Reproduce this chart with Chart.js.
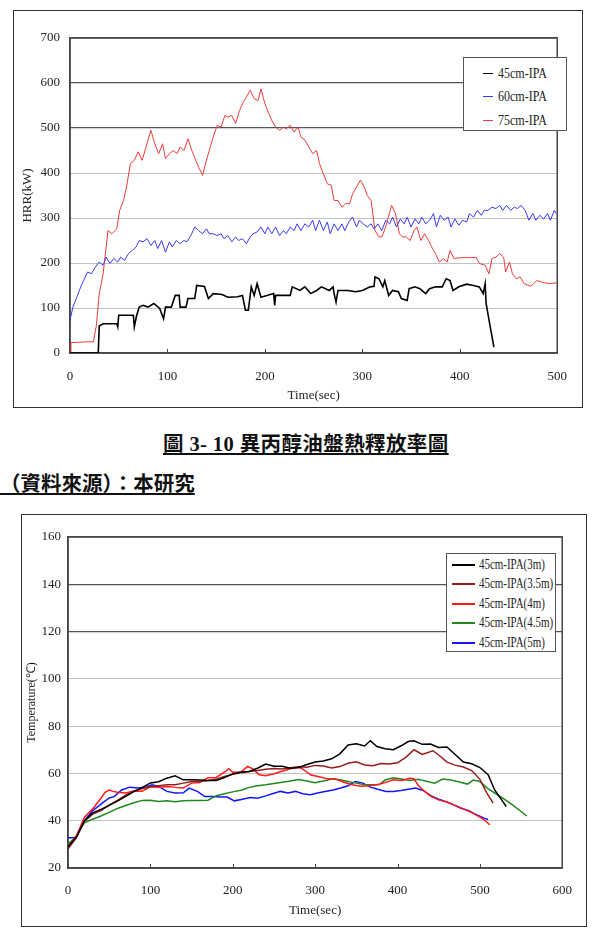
<!DOCTYPE html>
<html>
<head>
<meta charset="utf-8">
<script src="https://cdn.jsdelivr.net/npm/chart.js@4.4.1/dist/chart.umd.min.js"></script>
<style>
  body { margin: 0; width: 595px; height: 932px; position: relative; background: #fff; overflow: hidden; font-family: 'Liberation Serif', serif; color: #222; }
  .frame { position: absolute; border: 1.5px solid #333; box-sizing: border-box; }
  #frame1 { left: 13px; top: 10px; width: 570px; height: 398px; }
  #frame2 { left: 21px; top: 514px; width: 566px; height: 413px; }
  canvas { position: absolute; }
  #hrrChart { left: 13px; top: 10px; }
  #tempChart { left: 21px; top: 514px; }
  .legend { position: absolute; border: 1.5px solid #555; background: #fff; box-sizing: border-box; }
  #legend1 { left: 463px; top: 57px; width: 104px; height: 74px; }
  #legend2 { left: 446px; top: 553px; width: 110px; height: 99px; }
  .item { position: absolute; left: 0; height: 18px; white-space: nowrap; }
  .item .swatch { position: absolute; top: 9px; height: 0; }
  .item .label { position: absolute; top: 0; font-size: 15px; line-height: 18px; transform-origin: left center; }
  .caption { position: absolute; font-family: 'Liberation Serif', 'Noto Sans CJK TC', serif; font-weight: bold; font-size: 20.5px; text-decoration: underline; white-space: nowrap; color: #111; }
  #caption1 { left: 163px; top: 427px; letter-spacing: 0.4px; }
  #caption2 { left: 0px; top: 467px; }
</style>
</head>
<body>
<div class="frame" id="frame1"></div>
<canvas id="hrrChart" width="570" height="398"></canvas>
<div class="legend" id="legend1"></div>

<div class="caption" id="caption1">圖 3- 10 異丙醇油盤熱釋放率圖</div>
<div class="caption" id="caption2">（資料來源）：本研究</div>

<div class="frame" id="frame2"></div>
<canvas id="tempChart" width="566" height="413"></canvas>
<div class="legend" id="legend2"></div>

<script>
// ---- HRR chart data: [time (sec), HRR (kW)] ----
const hrrLabels = ["45cm-IPA", "60cm-IPA", "75cm-IPA"];
const hrr45 = [[0,0],[29,0],[30,60],[34,65],[48,65],[49,58],[50,84],[65,84],[66,58],[68,80],[71,102],[75,106],[80,102],[86,110],[92,99],[96,76],[98,102],[104,102],[108,128],[112,128],[113,102],[119,102],[121,121],[128,121],[130,150],[138,148],[142,121],[147,132],[156,130],[162,124],[172,125],[177,128],[180,95],[183,95],[186,147],[189,128],[192,154],[196,124],[202,128],[209,132],[210,106],[211,128],[221,128],[226,128],[228,147],[236,139],[241,147],[247,132],[253,139],[258,147],[266,139],[270,147],[271,132],[273,113],[275,139],[285,139],[293,136],[300,139],[308,147],[312,148],[313,169],[317,165],[321,147],[323,161],[327,128],[331,139],[337,136],[340,121],[346,117],[348,143],[354,147],[359,143],[365,132],[369,143],[375,147],[382,147],[386,165],[390,161],[393,139],[399,147],[407,153],[414,150],[420,147],[424,132],[426,154],[427,110],[431,61],[435,13]];
const hrr60 = [[0,73],[3,102],[7,124],[11,147],[14,161],[18,180],[22,176],[26,191],[30,202],[34,195],[37,213],[41,199],[45,210],[49,202],[52,213],[56,206],[60,221],[64,228],[68,236],[71,250],[75,247],[79,254],[83,239],[87,250],[90,232],[94,250],[98,224],[102,247],[105,236],[109,250],[113,243],[117,250],[120,247],[124,261],[128,280],[132,272],[136,265],[140,276],[143,265],[147,265],[151,261],[155,265],[158,254],[162,261],[166,247],[170,258],[173,250],[177,254],[181,243],[185,258],[188,265],[192,269],[196,280],[200,265],[203,280],[207,265],[211,280],[215,261],[219,272],[222,265],[226,280],[230,272],[233,287],[237,272],[241,287],[245,280],[249,295],[252,272],[256,295],[260,272],[264,291],[267,265],[271,287],[275,272],[279,287],[282,272],[286,291],[290,302],[294,280],[297,295],[301,287],[305,280],[309,287],[312,276],[316,287],[320,272],[324,295],[328,287],[331,302],[335,280],[339,298],[343,287],[346,302],[350,280],[354,298],[358,287],[361,302],[365,287],[369,295],[373,310],[376,280],[380,306],[384,295],[388,302],[391,280],[395,298],[399,284],[403,295],[407,291],[410,310],[414,302],[418,317],[422,306],[425,317],[429,317],[433,324],[437,321],[441,328],[444,317],[448,328],[452,317],[456,324],[459,321],[463,328],[467,317],[471,295],[475,310],[478,295],[482,306],[486,298],[490,310],[493,295],[497,317],[499,310]];
const hrr75 = [[0,0],[1,23],[10,24],[20,25],[24,25],[27,60],[30,132],[34,176],[39,272],[43,265],[48,276],[51,317],[55,339],[58,369],[62,421],[66,428],[70,447],[74,428],[79,465],[83,495],[87,465],[91,443],[95,465],[98,432],[102,443],[106,450],[110,443],[113,458],[117,450],[121,476],[125,450],[129,428],[132,413],[136,395],[140,428],[144,458],[147,480],[151,506],[155,502],[159,528],[162,524],[166,528],[170,510],[174,539],[177,554],[181,569],[185,584],[189,565],[193,561],[196,587],[200,554],[204,532],[207,517],[211,502],[215,495],[219,502],[222,498],[226,506],[230,491],[234,502],[237,480],[241,473],[245,458],[249,443],[253,450],[256,421],[260,398],[264,376],[268,373],[271,339],[275,339],[279,324],[283,332],[287,332],[290,354],[294,369],[298,384],[302,369],[305,350],[309,339],[313,272],[317,258],[320,258],[324,280],[330,328],[334,310],[338,265],[341,258],[345,258],[349,250],[353,272],[356,280],[360,250],[364,265],[368,250],[371,236],[375,221],[379,202],[383,210],[387,202],[390,228],[394,210],[402,212],[409,212],[417,212],[420,199],[426,195],[430,176],[433,210],[437,213],[441,221],[445,213],[447,180],[451,202],[454,176],[458,165],[462,169],[466,154],[473,148],[479,161],[487,156],[492,154],[500,156]];

// ---- Temperature chart data: [time (sec), temperature (C)] ----
const tempLabels = ["45cm-IPA(3m)", "45cm-IPA(3.5m)", "45cm-IPA(4m)", "45cm-IPA(4.5m)", "45cm-IPA(5m)"];
const temp3m = [[0,29],[10,33],[20,40],[30,43.3],[40,44.8],[50,46.5],[60,48.3],[70,50.3],[80,52.3],[90,54],[100,56],[110,56.5],[120,58],[130,59],[140,57.3],[150,57.3],[160,57.2],[170,57],[180,57],[190,58.3],[200,59.8],[210,60.6],[220,60.8],[230,62.2],[240,64],[250,63],[260,63],[270,62.2],[280,62.5],[290,63.8],[300,64.8],[310,65.3],[320,66.2],[330,68.3],[340,72],[350,72.5],[360,71.6],[367,73.8],[375,71.4],[385,70.4],[395,70],[405,71.8],[413,73.5],[420,73.8],[430,72.3],[440,72.4],[450,71],[460,71.2],[470,68],[480,64.8],[490,64.1],[500,62.5],[510,59.5],[518,53],[526,49],[532,46]];
const temp35m = [[0,28],[10,32.7],[20,39.8],[30,42.8],[40,44.3],[50,46.6],[60,48.6],[70,50.8],[80,52.6],[90,53.6],[100,54.4],[110,54.8],[120,55.2],[130,55.2],[140,55.9],[150,56.6],[160,56.6],[170,57],[180,57.6],[190,58.7],[200,59.6],[210,60.3],[220,60.8],[230,61.2],[240,61.8],[250,62.1],[260,61.9],[270,62.4],[280,62.8],[290,62.6],[300,63.4],[310,63.1],[320,62.3],[330,62.9],[340,64.3],[350,64.9],[360,63.6],[370,63.3],[380,64.2],[390,64],[400,64.5],[410,66.8],[420,70],[430,68],[443,69.6],[450,67.8],[460,64.8],[470,63.5],[480,62.7],[490,61.2],[500,57.5],[508,52],[516,47.4]];
const temp4m = [[0,29],[10,33.4],[20,41.5],[30,45],[40,49.5],[45,52],[50,53],[55,52.4],[60,52],[70,51.7],[80,52.6],[90,52.5],[100,54.4],[110,54.2],[120,54.5],[130,54.1],[140,53.8],[150,55.9],[160,56.2],[170,58.2],[180,58.3],[190,60.5],[195,62],[200,60.5],[210,60.6],[218,63],[225,61.8],[232,59.4],[240,59],[250,59.9],[260,60.9],[270,62],[280,62.6],[285,61.8],[295,59.3],[305,58.6],[315,57.7],[325,57.6],[335,56.3],[345,55.2],[355,54.6],[365,54.8],[375,55.2],[385,56.1],[395,57.3],[405,57],[415,58],[420,57.8],[425,55],[430,53.3],[440,50.4],[450,48.8],[460,47.9],[470,46.5],[480,45],[490,43.5],[500,41.5],[505,40.4],[512,38.3]];
const temp45m = [[0,30],[10,33.4],[20,39.2],[30,40.6],[40,42],[50,43.5],[60,45.2],[70,46.4],[80,47.6],[90,48.6],[100,48.7],[110,48.1],[120,48.4],[130,48],[140,48.4],[150,48.6],[160,48.6],[170,48.7],[180,50.6],[190,51.4],[200,52.2],[210,52.9],[220,54.1],[230,54.8],[240,55.2],[250,55.7],[260,56.3],[270,56.8],[280,57.4],[290,56.8],[300,56.1],[310,56.8],[320,57.6],[330,57.3],[340,56.6],[350,55.9],[360,55.2],[370,55.2],[378,55.3],[385,57.2],[395,58.2],[405,57.6],[415,57],[425,57.5],[435,56.7],[445,55.9],[455,57.6],[465,57.2],[475,56.4],[485,55.5],[492,57.2],[500,56.6],[510,53.5],[520,51.3],[530,49],[540,46.6],[550,43.9],[557,42]];
const temp5m = [[0,32.8],[5,32.8],[10,33],[15,36.9],[22,41],[30,44.2],[40,47],[50,49.6],[56,50.2],[65,53],[75,54.2],[85,53.8],[95,54.3],[102,55.2],[110,54.5],[120,52.4],[130,51.7],[140,51.8],[147,53.8],[157,52.4],[166,50.2],[175,50.2],[185,50],[193,50],[202,48.4],[212,49.1],[221,49.8],[230,49.5],[240,50.5],[250,51.6],[258,52.4],[267,51.7],[276,52.4],[285,51.4],[294,51],[303,51.7],[312,52.4],[322,53],[331,53.8],[340,54.8],[349,56.6],[358,55.9],[367,54.2],[376,53.3],[386,52.4],[395,52.4],[404,52.8],[413,53.3],[422,53.8],[431,52.8],[441,50.5],[450,49.1],[459,48],[468,46.7],[477,45.3],[486,44.3],[496,42.5],[505,41.1],[510,40.5]];

const hrrColors = ["#000000", "#3a3af5", "#f03a3a"];
const tempColors = ["#000000", "#991c1c", "#ff1a1a", "#1e8a1e", "#1414ff"];

const toPoints = (pairs) => pairs.map(p => ({ x: p[0], y: p[1] }));
const tickFont = { family: "'Liberation Serif', serif", size: 13 };

// frame around the plot area + small inner tick marks on the time axis
const plotFrame = {
  id: "plotFrame",
  beforeDatasetsDraw(chart) {
    const { ctx, chartArea: a, scales: { x } } = chart;
    ctx.save();
    ctx.strokeStyle = "#444";
    ctx.lineWidth = 1;
    x.ticks.forEach(t => {
      const px = Math.round(x.getPixelForValue(t.value)) + 0.5;
      ctx.beginPath();
      ctx.moveTo(px, a.bottom);
      ctx.lineTo(px, a.bottom - 4);
      ctx.stroke();
    });
    ctx.lineWidth = 1.5;
    ctx.strokeRect(a.left, a.top, a.right - a.left, a.bottom - a.top);
    ctx.restore();
  }
};

const makeChart = (canvasId, cfg) => new Chart(document.getElementById(canvasId), {
  type: "line",
  data: { datasets: cfg.datasets },
  options: {
    responsive: false,
    animation: false,
    layout: { padding: cfg.padding },
    plugins: { legend: { display: false }, tooltip: { enabled: false } },
    elements: { point: { radius: 0 }, line: { tension: 0 } },
    scales: {
      x: {
        type: "linear", min: cfg.xMin, max: cfg.xMax,
        ticks: { stepSize: 100, font: tickFont, color: "#222", padding: cfg.xTickPad, maxRotation: 0 },
        grid: { drawOnChartArea: false, drawTicks: false },
        border: { color: "#444", width: 1.5 },
        title: { display: true, text: "Time(sec)", font: { family: "'Liberation Serif', serif", size: 13 }, color: "#222", padding: { top: 0, bottom: cfg.xTitlePad } },
        afterFit: s => { s.height = cfg.xHeight; }
      },
      y: {
        min: cfg.yMin, max: cfg.yMax,
        ticks: { stepSize: cfg.yStep, font: tickFont, color: "#222", padding: cfg.yTickPad },
        grid: { drawTicks: false, color: c => cfg.darkGrid.includes(c.tick.value) ? "#555" : "#c2c2c2", lineWidth: c => cfg.darkGrid.includes(c.tick.value) ? 1.3 : 1 },
        border: { color: "#444", width: 1.5 },
        title: { display: true, text: cfg.yTitle, font: { family: "'Liberation Serif', serif", size: cfg.yTitleSize }, color: "#222", padding: { top: cfg.yTitlePad, bottom: 0 } },
        afterFit: s => { s.width = cfg.yWidth; }
      }
    }
  },
  plugins: [plotFrame]
});

makeChart("hrrChart", {
  datasets: [hrr45, hrr60, hrr75].map((d, i) => ({
    label: hrrLabels[i], data: toPoints(d), borderColor: hrrColors[i], borderWidth: i === 0 ? 1.6 : 1
  })),
  padding: { left: 0, top: 28, right: 10, bottom: 0 },
  xMin: 0, xMax: 500, yMin: 0, yMax: 700, yStep: 100,
  xTickPad: 16, xTitlePad: 5, xHeight: 55,
  yTickPad: 10, yWidth: 57,
  yTitle: "HRR(kW)", yTitleSize: 13, yTitlePad: 7,
  darkGrid: [500, 600, 700]
});

makeChart("tempChart", {
  datasets: [temp3m, temp35m, temp4m, temp45m, temp5m].map((d, i) => ({
    label: tempLabels[i], data: toPoints(d), borderColor: tempColors[i], borderWidth: 1.5
  })),
  padding: { left: 0, top: 23, right: 22, bottom: 0 },
  xMin: 0, xMax: 600, yMin: 20, yMax: 160, yStep: 20,
  xTickPad: 15, xTitlePad: 9, xHeight: 59,
  yTickPad: 7, yWidth: 47,
  yTitle: "Temperature(℃)", yTitleSize: 12, yTitlePad: 4,
  darkGrid: [120, 140, 160]
});

// legends inside the plot areas
const buildLegend = (id, labels, colors, rows, swatch, textLeft, scaleX, lineW) => {
  const box = document.getElementById(id);
  labels.forEach((label, i) => {
    const item = document.createElement("div");
    item.className = "item";
    item.style.top = (rows[i] - 9) + "px";
    item.innerHTML = `<div class="swatch" style="left:${swatch[0]}px;width:${swatch[1]}px;border-top:${lineW}px solid ${colors[i]}"></div>` +
      `<div class="label" style="left:${textLeft}px;transform:scaleX(${scaleX})">${label}</div>`;
    box.appendChild(item);
  });
};
buildLegend("legend1", hrrLabels, hrrColors, [15, 38, 62], [19, 10], 34, 0.8, 1.5);
buildLegend("legend2", tempLabels, tempColors, [10, 29, 49, 68, 88], [5, 23], 32, 0.73, 2);
</script>
</body>
</html>
